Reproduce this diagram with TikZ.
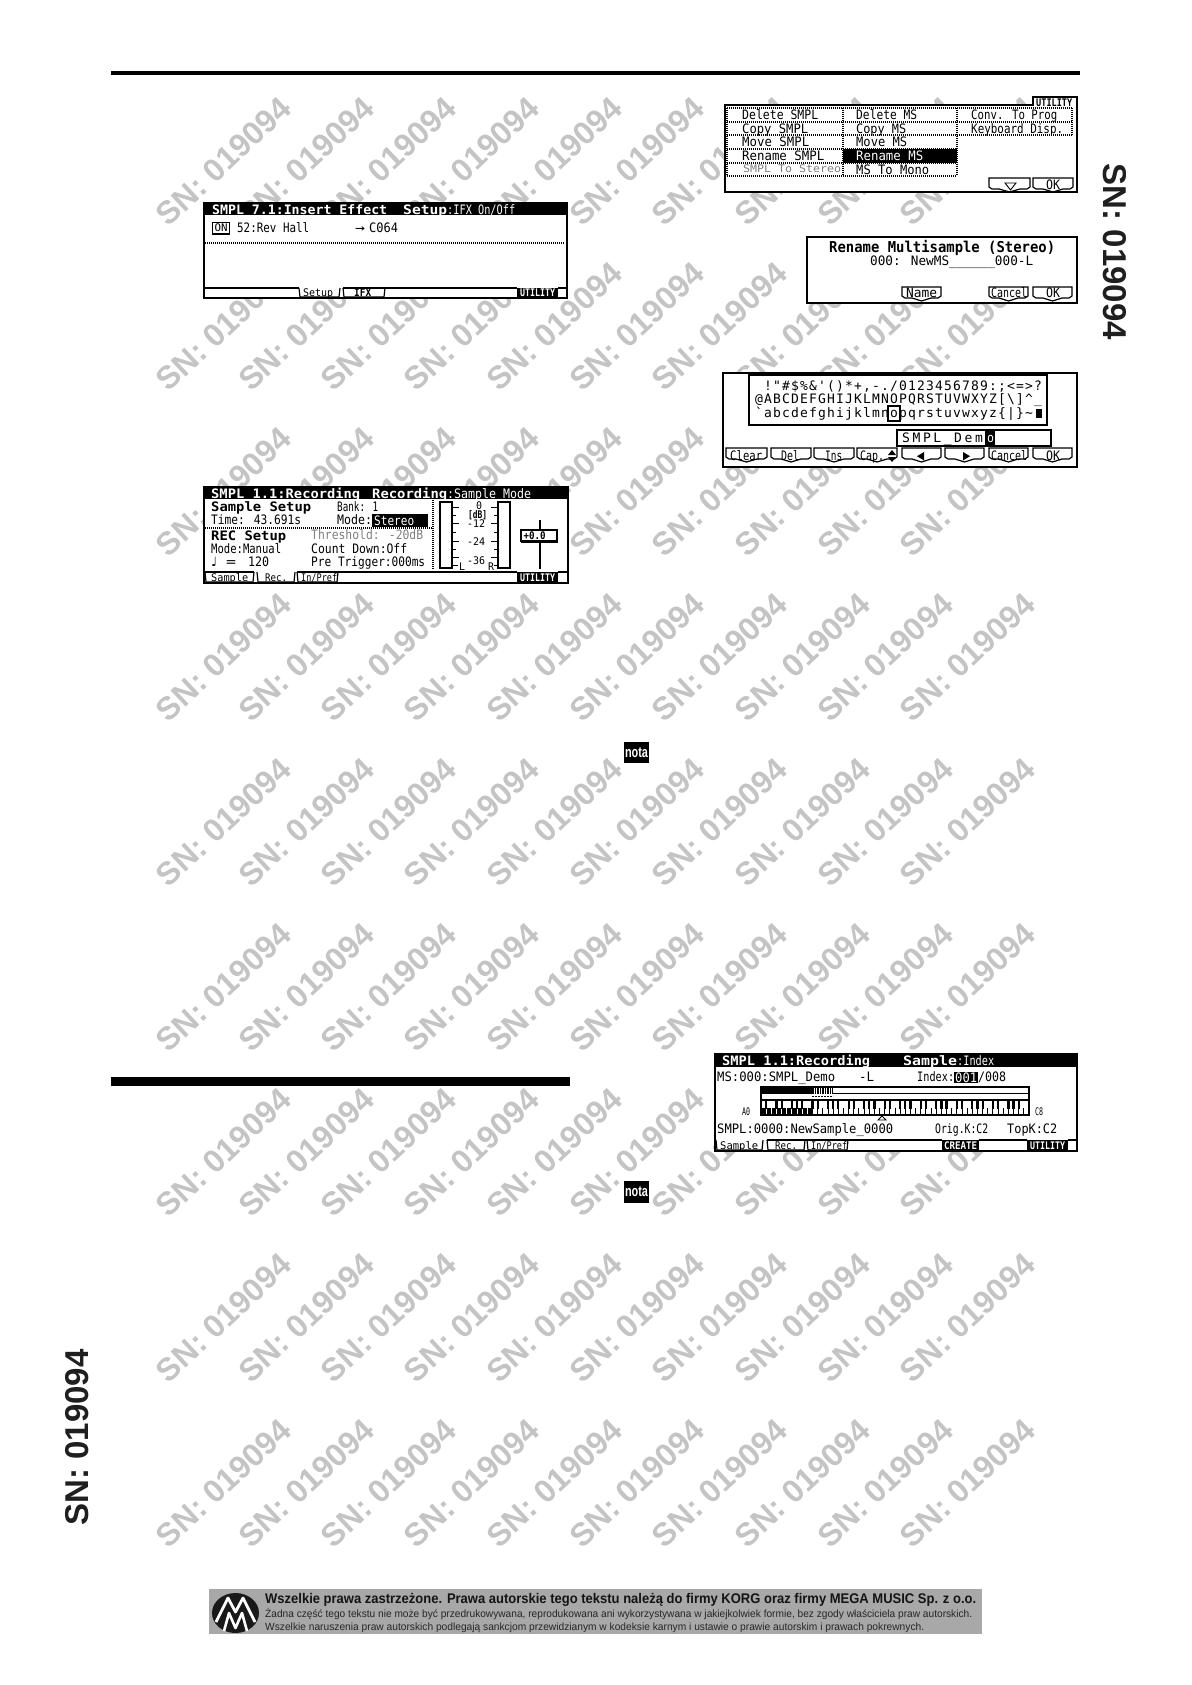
\documentclass[tikz,border=0pt]{standalone}
\usepackage{fontspec}
\usepackage{graphicx}
\setmainfont{Liberation Sans}
\newfontfamily\lcdr{DejaVu Sans Mono}
\newfontfamily\lcdsp[LetterSpace=9]{DejaVu Sans Mono}
\newfontfamily\lcdwd[LetterSpace=19.8]{DejaVu Sans Mono}
\newfontfamily\djv{DejaVu Sans}
\newfontfamily\arb{Liberation Sans}
\definecolor{wmark}{HTML}{C4C4C4}
\definecolor{footgray}{HTML}{A8A8A8}
\definecolor{dimtxt}{HTML}{808080}
\newcommand\fr{\fontsize{13}{13}\selectfont\lcdr}
\newcommand\fb{\fontsize{13}{13}\selectfont\lcdr\bfseries}
\newcommand\fs{\fontsize{10.5}{10.5}\selectfont\lcdr}
\newcommand\fsb{\fontsize{10.5}{10.5}\selectfont\lcdr\bfseries}
\newcommand\fB{\fontsize{15}{15}\selectfont\lcdr\bfseries}
% [colour]{x}{y centre}{width}{text}
\newcommand\Lr[5][black]{\node[anchor=base west,inner sep=0,text=#1] at (#2,#3+4.7) {\resizebox{#4pt}{\height}{\fr #5}};}
\newcommand\Lb[5][black]{\node[anchor=base west,inner sep=0,text=#1] at (#2,#3+4.7) {\resizebox{#4pt}{\height}{\fb #5}};}
\newcommand\Ls[5][black]{\node[anchor=base west,inner sep=0,text=#1] at (#2,#3+3.8) {\resizebox{#4pt}{\height}{\fs #5}};}
\newcommand\Lsb[5][black]{\node[anchor=base west,inner sep=0,text=#1] at (#2,#3+3.8) {\resizebox{#4pt}{\height}{\fsb #5}};}
\newcommand\LB[5][black]{\node[anchor=base west,inner sep=0,text=#1] at (#2,#3+5.5) {\resizebox{#4pt}{\height}{\fB #5}};}
\newcommand\Scr[4]{\fill[white] (#1,#2) rectangle (#3,#4); \draw[ln] (#1,#2) rectangle (#3,#4);}
\newcommand\Shd[4]{\draw[ln,line width=2.4pt] (#1,#4)--(#3,#4)--(#3,#2);}
\newcommand\Btn[3]{\draw[ln,fill=white] (#1,#3)--(#2,#3)--(#2,#3+9)--(#2-3,#3+11)--(#2-10,#3+11)--({(#1+#2)/2},#3+14)--(#1+10,#3+11)--(#1+3,#3+11)--(#1,#3+9)--cycle;}
\newcommand\Tab[4]{\draw[ln] (#1,#3)--(#1+1,#4-1)--(#2-1,#4-1)--(#2,#3);}
\tikzset{
  ln/.style={black,line width=1.2pt},
  dots/.style={black,line width=1.1pt,dash pattern=on 1pt off 1pt},
  wmk/.style={text=wmark,font=\fontsize{32}{32}\selectfont\bfseries\arb,rotate=43,inner sep=0},
  sidelabel/.style={text=black!88,font=\fontsize{33}{33}\selectfont\bfseries\arb,inner sep=0},
  notatag/.style={font=\fontsize{15}{15}\selectfont\bfseries\arb,text=white,inner sep=0}
}
\begin{document}
\begin{tikzpicture}[x=1pt,y=-1pt]
\useasboundingbox (0,0) rectangle (1191,1685);
\fill[white] (0,0) rectangle (1191,1685);
% watermark
\foreach \k in {0,...,8}{\foreach \j in {0,...,9}{
  \node[wmk] at ({223.5+82.7*\j},{1483-165.2*\k}) {SN: 019094};}}
% rules
\fill[black] (111,71) rectangle (1080,75.5);
\fill[black] (111,1077) rectangle (570,1086);
% side labels
\node[sidelabel,rotate=-90] (sideR) at (1115,252) {SN: 019094};
\node[sidelabel,rotate=90] (sideL) at (77,1437.5) {SN: 019094};
% nota
\fill[black] (624,742) rectangle (649,763);
\node[notatag] (nota1) at (636.5,752.5) {\resizebox{23pt}{\height}{nota}};
\fill[black] (623.5,1181) rectangle (649,1203);
\node[notatag] (nota2) at (636.5,1192) {\resizebox{23pt}{\height}{nota}};

% ---- SMPL 7.1
\Scr{204}{203}{567}{298}
\fill[black] (204,203) rectangle (567,215);
\Lb[white]{212}{209.5}{175}{SMPL 7.1:Insert Effect}
\Lb[white]{403}{209.5}{44}{Setup}
\Lr[white]{447}{209.5}{68}{:IFX On/Off}
\draw[ln,line width=1.6pt] (212.5,222.5) rectangle (229.5,234);
\Ls{214.5}{228.2}{13}{ON}
\Lr{237}{228}{72}{52:Rev Hall}
\Lr{355}{228}{10}{→}
\Lr{369}{228}{29}{C064}
\draw[dots] (205,243)--(565,243);
\draw[ln] (204,288)--(299,288);
\draw[ln] (343,288)--(517,288);
\draw[ln] (558,288)--(567,288);
\Tab{299}{340}{288}{298}
\Tab{343}{385}{288}{298}
\Ls{303}{293}{30}{Setup}
\Lsb{354}{293}{17}{IFX}
\fill[black] (517,288) rectangle (558,298);
\Lsb[white]{520}{293}{35}{UTILITY}
\Shd{204}{203}{567}{298}

% ---- SMPL 1.1 Recording
\Scr{204}{487}{568}{583}
\fill[black] (204,487) rectangle (568,499);
\Lb[white]{211}{493.5}{149}{SMPL 1.1:Recording}
\Lb[white]{372}{493.5}{75}{Recording}
\Lr[white]{447}{493.5}{84}{:Sample Mode}
\Lb{211}{507}{100}{Sample Setup}
\Lr{337}{507}{41}{Bank: 1}
\Lr{211}{520}{90}{Time: 43.691s}
\Lr{337}{520}{35}{Mode:}
\fill[black] (372,514) rectangle (428,527);
\Lr[white]{374}{520.5}{40}{Stereo}
\draw[dots] (205,528)--(433,528);
\Lb{211}{536}{75}{REC Setup}
\Lr[dimtxt]{311}{535}{112}{Threshold: -20dB}
\Lr{211}{549}{70}{Mode:Manual}
\Lr{311}{549}{96}{Count Down:Off}
\node[anchor=base west,inner sep=0] at (211,566.7) {\fontsize{13}{13}\selectfont\djv ♩};
\Lr{226}{562}{10}{=}
\Lr{248}{562}{21}{120}
\Lr{311}{562}{114}{Pre Trigger:000ms}
\draw[dots] (433,500)--(433,570);
\draw[ln] (440,502) rectangle (452,568);
\draw[ln] (498,502) rectangle (510,568);
\foreach \y in {507,523,541,557}{\draw[ln,line width=0.9pt] (452,\y)--(459,\y);\draw[ln,line width=0.9pt] (491,\y)--(498,\y);}
\foreach \y in {515,532,549}{\draw[ln,line width=0.9pt] (452,\y)--(456,\y);\draw[ln,line width=0.9pt] (494,\y)--(498,\y);}
\draw[ln,line width=0.9pt] (452,565)--(458,565);
\draw[ln,line width=0.9pt] (494,565)--(498,565);
\Ls{476}{506}{6}{0}
\Lsb{468}{515}{19}{[dB]}
\Ls{467}{524}{18}{-12}
\Ls{467}{542}{18}{-24}
\Ls{467}{561}{18}{-36}
\Ls{459}{567}{6}{L}
\Ls{488}{567}{6}{R}
\draw[ln,line width=2pt] (540,520)--(540,569);
\draw[ln,fill=white] (521,530) rectangle (557,541.5);
\draw[ln,line width=2.2pt] (521,541.5)--(557,541.5)--(557,530);
\Lsb{523.5}{536}{22}{+0.0}
\draw[ln] (204,572)--(254,572);
\draw[ln] (297,572)--(517,572);
\draw[ln] (558,572)--(568,572);
\Tab{205}{254}{572}{583}
\Tab{257}{295}{572}{583}
\Tab{297}{338}{572}{583}
\Ls{211}{578}{37}{Sample}
\Ls{265}{578}{22}{Rec.}
\Ls{301}{578}{36}{In/Pref}
\fill[black] (517,572) rectangle (558,583);
\Lsb[white]{520}{578}{35}{UTILITY}
\Shd{204}{487}{568}{583}

% ---- SMPL 1.1 Sample
\Scr{715}{1054}{1077}{1151}
\fill[black] (715,1054) rectangle (1077,1067);
\Lb[white]{722}{1061}{148}{SMPL 1.1:Recording}
\Lb[white]{903}{1061}{54}{Sample}
\Lr[white]{957}{1061}{37}{:Index}
\Lr{717}{1077}{118}{MS:000:SMPL\_Demo}
\Lr{859}{1077}{15}{-L}
\Lr{917}{1077}{37}{Index:}
\fill[black] (954,1072) rectangle (978,1083);
\Lr[white]{955}{1077.5}{22}{001}
\Lr{978}{1077}{28}{/008}
% key map
\draw[ln] (761,1087) rectangle (1029,1115);
\fill[black] (761,1087) rectangle (812,1093.5);
\fill[white] (762,1094.5) rectangle (808,1098.5);
\draw[ln] (761,1093.5)--(812,1093.5);
\draw[ln] (833,1093.5)--(1029,1093.5);
\draw[ln] (761,1099.5)--(1029,1099.5);
\draw[black,line width=6pt,dash pattern=on 1.5pt off 1pt] (812,1090.5)--(833,1090.5);
\draw[black,line width=1.5pt,dash pattern=on 2pt off 1pt] (812,1096.5)--(833,1096.5);
\begin{scope}
\clip (761,1100) rectangle (1029,1115);
\fill[black] (761,1108) rectangle (812,1115);
\foreach \i in {1,...,9}{\draw[white,line width=0.9pt] ({761+\i*5.154},1108)--({761+\i*5.154},1115);}
\foreach \i in {10,...,51}{\draw[black,line width=0.9pt] ({761+\i*5.154},1108)--({761+\i*5.154},1115);}
\foreach \o in {0,7,...,49}{\foreach \d in {0,2,3,5,6}{
  \fill[black] ({761+(\o+\d+1)*5.154-1.1},1100) rectangle ({761+(\o+\d+1)*5.154+1.1},1108.5);}}
\end{scope}
\draw[ln] (761,1100) rectangle (1029,1115);
\Ls{742}{1112}{8}{A0}
\Ls{1035}{1112}{8}{C8}
\draw[ln,line width=0.9pt] (878,1120)--(886,1120)--(882,1116)--cycle;
\Lr{717}{1129}{176}{SMPL:0000:NewSample\_0000}
\Lr{935}{1129}{53}{Orig.K:C2}
\Lr{1007}{1129}{50}{TopK:C2}
\draw[ln] (767,1140)--(942,1140);
\draw[ln] (979,1140)--(1027,1140);
\draw[ln] (1068,1140)--(1077,1140);
\Tab{716}{763}{1140}{1151}
\Tab{767}{805}{1140}{1151}
\Tab{807}{848}{1140}{1151}
\Ls{720}{1146}{38}{Sample}
\Ls{775}{1146}{22}{Rec.}
\Ls{811}{1146}{36}{In/Pref}
\fill[black] (942,1140) rectangle (979,1151);
\Lsb[white]{944}{1146}{33}{CREATE}
\fill[black] (1027,1140) rectangle (1068,1151);
\Lsb[white]{1030}{1146}{35}{UTILITY}
\Shd{715}{1054}{1077}{1151}

% ---- UTILITY menu
\draw[ln,fill=white] (725,105)--(1033,105)--(1033,97)--(1077,97)--(1077,192)--(725,192)--cycle;
\Lsb{1036}{103}{36}{UTILITY}
\fill[black] (843,149) rectangle (957,163);
\foreach \y in {108,122,135,149,163,176}{\draw[dots] (727,\y)--(957,\y);}
\foreach \y in {108,122,135}{\draw[dots] (957,\y)--(1072,\y);}
\foreach \x in {727,843,957}{\draw[dots] (\x,108)--(\x,176);}
\draw[dots] (1072,108)--(1072,135);
\Lr{742}{115}{76}{Delete SMPL}
\Lr{742}{128.5}{66}{Copy SMPL}
\Lr{742}{142}{67}{Move SMPL}
\Lr{742}{156}{82}{Rename SMPL}
\Ls[dimtxt]{743}{169}{98}{SMPL To Stereo}
\Lr{856}{115}{61}{Delete MS}
\Lr{856}{128.5}{50}{Copy MS}
\Lr{856}{142}{51}{Move MS}
\Lr[white]{856}{156}{67}{Rename MS}
\Lr{856}{169.5}{73}{MS To Mono}
\Lr{971}{115}{86}{Conv. To Prog}
\Lr{971}{128.5}{92}{Keyboard Disp.}
\Btn{989}{1030}{178}
\Btn{1033}{1073}{178}
\draw[ln,line width=0.9pt] (1005,183)--(1016,183)--(1010.5,190)--cycle;
\Lr{1046}{185}{14}{OK}
\Shd{725}{97}{1077}{192}

% ---- Rename
\Scr{807}{237}{1077}{303}
\LB{829}{247}{226}{Rename Multisample (Stereo)}
\Lr{870}{261}{163}{000:  NewMS\_\_\_\_\_\_000-L}
\Btn{902}{941}{287}
\Btn{989}{1028}{287}
\Btn{1033}{1072}{287}
\Lr{906}{293}{31}{Name}
\Lr{991}{293}{36}{Cancel}
\Lr{1046}{293}{14}{OK}
\Shd{807}{237}{1077}{303}

% ---- Text entry
\Scr{723}{373}{1077}{467}
\draw[ln,fill=white] (749,375) rectangle (1047,425);
\draw[ln,line width=2.2pt] (749,425)--(1047,425)--(1047,375);
\node[anchor=base west,inner sep=0] at (764,390.7) {\fontsize{13}{13}\selectfont\lcdsp !"\#\$\%\&'()*+,-./0123456789:;<=>?};
\node[anchor=base west,inner sep=0] at (755,403.7) {\fontsize{13}{13}\selectfont\lcdsp @ABCDEFGHIJKLMNOPQRSTUVWXYZ[\textbackslash]\textasciicircum\_};
\node[anchor=base west,inner sep=0] at (755,417.7) {\fontsize{13}{13}\selectfont\lcdsp `abcdefghijklmnopqrstuvwxyz\{|\}\textasciitilde};
\fill[black] (1036,409) rectangle (1042,418);
\draw[ln] (888,406) rectangle (900,421);
\draw[ln] (897,430) rectangle (1051,446);
\node[anchor=base west,inner sep=0] at (902,442.7) {\fontsize{13}{13}\selectfont\lcdwd SMPL\_Dem};
\fill[black] (985,431) rectangle (995,445);
\Lr[white]{987}{438}{7}{o}
\Btn{726}{767}{448}
\Btn{771}{811}{448}
\Btn{814}{854}{448}
\Btn{857}{897}{448}
\Btn{902}{941}{448}
\Btn{945}{984}{448}
\Btn{989}{1028}{448}
\Btn{1033}{1072}{448}
\Lr{730}{455.5}{32}{Clear}
\Lr{781}{455.5}{18}{Del}
\Lr{825}{455.5}{17}{Ins}
\Lr{860}{455.5}{24}{Cap.}
\fill[black] (888,455)--(896,455)--(892,450)--cycle;
\fill[black] (888,457)--(896,457)--(892,462)--cycle;
\fill[black] (924,452)--(924,460.5)--(917,456.2)--cycle;
\fill[black] (963,452)--(963,460.5)--(970,456.2)--cycle;
\Lr{991}{455.5}{36}{Cancel}
\Lr{1046}{455.5}{14}{OK}
\Shd{723}{373}{1077}{467}

% ---- footer
\fill[footgray] (209,1589) rectangle (982,1634);
\fill[black!90] (235.5,1613) ellipse (23.5 and 20);
\draw[white,line width=2.8pt,line join=round] (216,1622)--(228,1598)--(235.5,1612)--(243,1598)--(255,1622);
\draw[white,line width=2.6pt,line join=round] (224,1631)--(229,1613)--(235.5,1628)--(242,1613)--(247,1631);
\node[anchor=base west,inner sep=0,text=black!92] (foot1) at (265,1603.5) {\resizebox{711pt}{\height}{\fontsize{14}{14}\selectfont\bfseries\arb Wszelkie prawa zastrzeżone. Prawa autorskie tego tekstu należą do firmy KORG oraz firmy MEGA MUSIC Sp. z o.o.}};
\node[anchor=base west,inner sep=0,text=black!85] (foot2) at (265,1617.5) {\resizebox{707pt}{\height}{\fontsize{10.5}{10.5}\selectfont\arb Żadna część tego tekstu nie może być przedrukowywana, reprodukowana ani wykorzystywana w jakiejkolwiek formie, bez zgody właściciela praw autorskich.}};
\node[anchor=base west,inner sep=0,text=black!85] (foot3) at (265,1630.5) {\resizebox{659pt}{\height}{\fontsize{10.5}{10.5}\selectfont\arb Wszelkie naruszenia praw autorskich podlegają sankcjom przewidzianym w kodeksie karnym i ustawie o prawie autorskim i prawach pokrewnych.}};
\end{tikzpicture}
\end{document}
